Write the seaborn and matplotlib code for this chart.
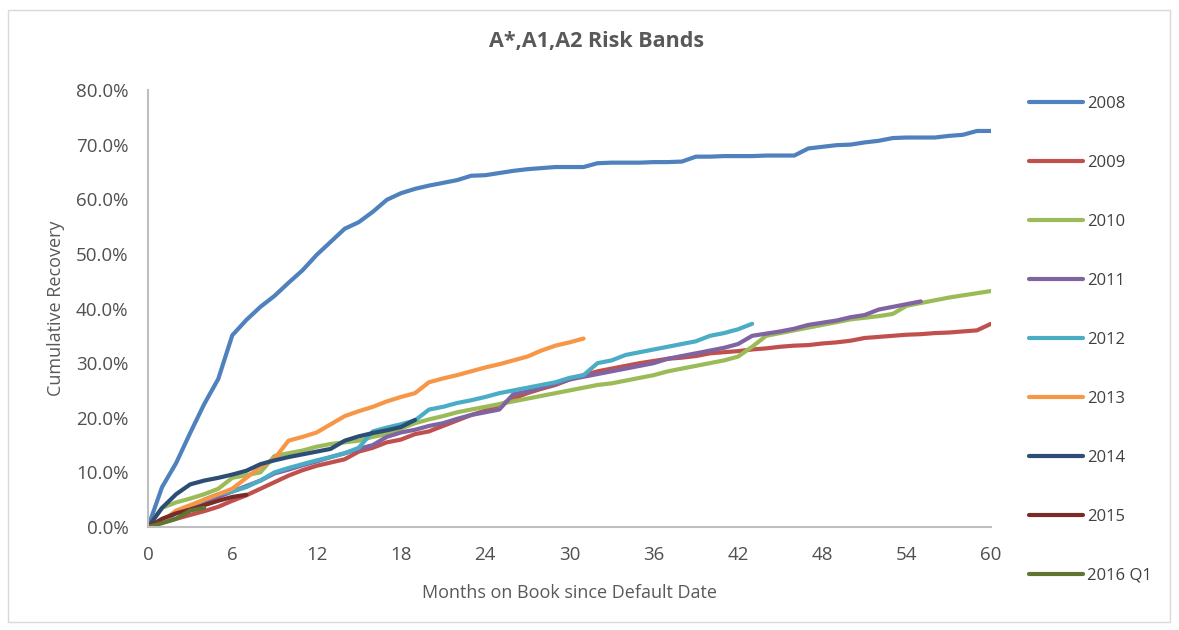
import matplotlib
matplotlib.use("Agg")
import matplotlib.pyplot as plt
from matplotlib.patches import Rectangle
from matplotlib.lines import Line2D
import seaborn as sns
import pandas as pd

series_names = ["2008", "2009", "2010", "2011", "2012", "2013", "2014", "2015", "2016 Q1"]

v2008 = [0, 7.3, 11.7, 17.2, 22.5, 27.1, 35.1, 37.9, 40.3, 42.3, 44.7, 47.0, 49.8, 52.2, 54.6,
         55.8, 57.7, 59.9, 61.1, 61.9, 62.5, 63.0, 63.5, 64.3, 64.4, 64.8, 65.2, 65.5, 65.7, 65.9,
         65.9, 65.9, 66.6, 66.7, 66.7, 66.7, 66.8, 66.8, 66.9, 67.8, 67.8, 67.9, 67.9, 67.9, 68.0,
         68.0, 68.0, 69.3, 69.6, 69.9, 70.0, 70.4, 70.7, 71.2, 71.3, 71.3, 71.3, 71.6, 71.8, 72.5, 72.5]
v2009 = [0, 0.8, 1.5, 2.2, 2.9, 3.7, 4.8, 5.8, 7.0, 8.2, 9.4, 10.4, 11.2, 11.8, 12.4, 13.8, 14.5,
         15.5, 16.0, 17.0, 17.5, 18.5, 19.5, 20.5, 21.3, 22.3, 23.5, 24.5, 25.3, 26.0, 27.0, 27.8,
         28.5, 29.0, 29.5, 30.0, 30.4, 30.8, 31.0, 31.3, 31.8, 32.0, 32.2, 32.5, 32.7, 33.0, 33.2,
         33.3, 33.6, 33.8, 34.1, 34.6, 34.8, 35.0, 35.2, 35.3, 35.5, 35.6, 35.8, 36.0, 37.2]
v2010 = [0, 3.5, 4.5, 5.2, 6.0, 7.0, 9.0, 9.5, 10.0, 13.0, 13.5, 14.0, 14.7, 15.2, 15.5, 15.8,
         16.5, 17.0, 18.0, 19.0, 19.7, 20.3, 21.0, 21.5, 22.0, 22.5, 23.0, 23.5, 24.0, 24.5, 25.0,
         25.5, 26.0, 26.3, 26.8, 27.3, 27.8, 28.5, 29.0, 29.5, 30.0, 30.5, 31.2, 33.0, 35.0, 35.5,
         36.0, 36.5, 37.0, 37.5, 38.0, 38.3, 38.6, 39.0, 40.5, 41.0, 41.5, 42.0, 42.4, 42.8, 43.2]
v2011 = [0, 1.0, 2.5, 3.5, 4.5, 5.5, 6.5, 7.5, 8.5, 9.8, 10.5, 11.3, 12.0, 12.8, 13.5, 14.3, 15.0,
         16.5, 17.3, 17.8, 18.5, 19.0, 19.8, 20.5, 21.0, 21.5, 24.3, 24.8, 25.5, 26.2, 27.0, 27.5,
         28.0, 28.5, 29.0, 29.5, 30.0, 30.8, 31.3, 31.8, 32.3, 32.8, 33.5, 35.0, 35.4, 35.8, 36.3,
         37.0, 37.4, 37.8, 38.4, 38.8, 39.8, 40.3, 40.8, 41.3]
v2012 = [0, 1.2, 2.5, 3.5, 5.0, 6.0, 6.5, 7.3, 8.5, 10.0, 10.8, 11.5, 12.2, 12.8, 13.5, 14.5,
         17.5, 18.2, 18.8, 19.5, 21.5, 22.0, 22.7, 23.2, 23.8, 24.5, 25.0, 25.5, 26.0, 26.5, 27.3,
         27.8, 30.0, 30.5, 31.5, 32.0, 32.5, 33.0, 33.5, 34.0, 35.0, 35.5, 36.2, 37.2]
v2013 = [0, 1.0, 3.0, 4.0, 5.0, 6.0, 7.0, 9.0, 11.0, 12.5, 15.8, 16.5, 17.3, 18.8, 20.3, 21.2,
         22.0, 23.0, 23.8, 24.5, 26.5, 27.2, 27.8, 28.5, 29.2, 29.8, 30.5, 31.2, 32.3, 33.2, 33.8, 34.5]
v2014 = [0, 3.5, 6.0, 7.8, 8.5, 9.0, 9.6, 10.3, 11.5, 12.2, 12.8, 13.3, 13.8, 14.3, 15.8, 16.6,
         17.2, 17.7, 18.3, 19.6]
v2015 = [0, 1.5, 2.5, 3.2, 4.0, 4.8, 5.5, 5.9]
v2016q1 = [0, 0.7, 1.5, 3.0, 3.5]

all_values = [v2008, v2009, v2010, v2011, v2012, v2013, v2014, v2015, v2016q1]
colors = ["#4F81BD", "#C0504D", "#9BBB59", "#8064A2", "#4BACC6", "#F79646", "#2C4D75", "#772C2A", "#5F7530"]

x_ticks = [0, 6, 12, 18, 24, 30, 36, 42, 48, 54, 60]
y_ticks = [0, 10, 20, 30, 40, 50, 60, 70, 80]

rows = []
for name, vals in zip(series_names, all_values):
    for m, v in enumerate(vals):
        rows.append({"Month": m, "Recovery": v, "Cohort": name})
df = pd.DataFrame(rows)

sns.set_style("white")
plt.rcParams['font.family'] = ['Open Sans', 'DejaVu Sans']

fig = plt.figure(figsize=(11.79, 6.3), dpi=100)
ax = fig.add_axes([148/1179, 1 - 527/630, (991-148)/1179, (527-90)/630])

palette = dict(zip(series_names, colors))
sns.lineplot(data=df, x="Month", y="Recovery", hue="Cohort", palette=palette,
             hue_order=series_names, linewidth=3, legend=False, ax=ax)

ax.set_xlim(0, 60)
ax.set_ylim(0, 80)
ax.set_xticks(x_ticks)
ax.set_yticks(y_ticks)
ax.set_xticklabels([str(t) for t in x_ticks], fontsize=13.5, color="#505050")
ax.set_yticklabels([f"{t:.1f}%" for t in y_ticks], fontsize=13.5, color="#505050")
ax.tick_params(axis="both", length=0)
ax.tick_params(axis="y", pad=14)
ax.tick_params(axis="x", pad=14)
for s in ["top", "right"]:
    ax.spines[s].set_visible(False)
for s in ["left", "bottom"]:
    ax.spines[s].set_color("#BFBFBF")
    ax.spines[s].set_linewidth(1.5)

ax.set_xlabel("Months on Book since Default Date", fontsize=13, color="#595959", labelpad=14)
ax.set_ylabel("Cumulative Recovery", fontsize=13, color="#595959", labelpad=8)

fig.text(597/1179, 1 - 42/630, "A*,A1,A2 Risk Bands", ha="center", va="center",
         fontsize=15.5, fontweight="bold", color="#595959")

# outer chart border
fig.patches.append(Rectangle((8/1179, 8/630), (1170-8)/1179, (620-8)/630, transform=fig.transFigure,
                             fill=False, edgecolor="#D9D9D9", linewidth=1))

handles = [Line2D([0], [0], color=c, linewidth=3, solid_capstyle="round") for c in colors]
leg = fig.legend(handles, series_names, loc="upper left", bbox_to_anchor=(1022/1179, 1 - 89/630),
                 frameon=False, fontsize=12, labelspacing=2.58, handlelength=3.25,
                 handletextpad=0.25, borderaxespad=0)
for t in leg.get_texts():
    t.set_color("#404040")

fig.savefig("out.png", dpi=100)
